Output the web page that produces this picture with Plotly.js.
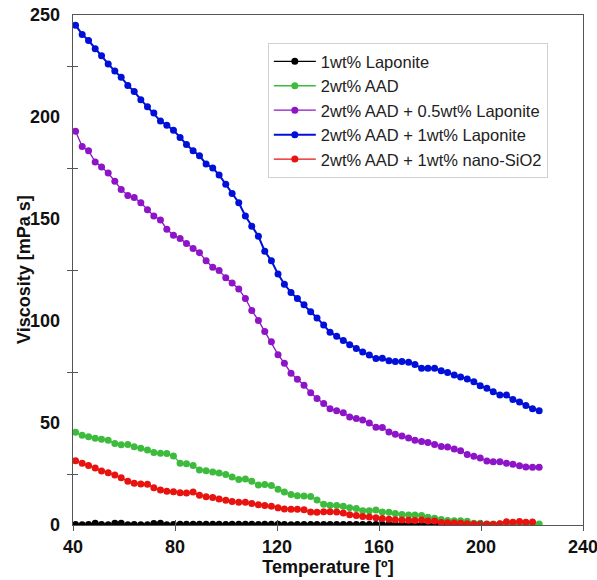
<!DOCTYPE html>
<html>
<head>
<meta charset="utf-8">
<script src="https://cdn.plot.ly/plotly-3.0.1.min.js"></script>
<style>
  html, body { margin: 0; padding: 0; background: #fff; }
  #chart { width: 597px; height: 580px; }
</style>
</head>
<body>
<div id="chart"></div>
<script>
// Measurement temperatures [°C]
var temperature = [41.0, 43.6, 46.1, 48.7, 51.2, 53.8, 56.4, 58.9, 61.5, 64.0,
  66.6, 69.2, 71.7, 74.3, 76.8, 79.4, 82.0, 84.5, 87.1, 89.6,
  92.2, 94.8, 97.3, 99.9, 102.4, 105.0, 107.6, 110.1, 112.7, 115.2,
  117.8, 120.4, 122.9, 125.5, 128.0, 130.6, 133.2, 135.7, 138.3, 140.8,
  143.4, 146.0, 148.5, 151.1, 153.6, 156.2, 158.8, 161.3, 163.9, 166.4,
  169.0, 171.6, 174.1, 176.7, 179.2, 181.8, 184.4, 186.9, 189.5, 192.0,
  194.6, 197.2, 199.7, 202.3, 204.8, 207.4, 210.0, 212.5, 215.1, 217.6,
  220.2, 222.8];

// Viscosity [mPa s] for each formulation
var laponite1 = [0.2, 0.1, 0.2, 0.8, 0.2, 0.1, 0.9, 0.8, 0.1, 0.2,
  0.1, 0.1, 0.7, 0.8, 0.1, 0.2, 0.4, 0.4, 0.4, 0.4,
  0.4, 0.4, 0.4, 0.3, 0.4, 0.4, 0.4, 0.4, 0.3, 0.4,
  0.4, 0.4, 0.3, 0.1, 0.2, 0.2, 0.2, 0.2, 0.2, 0.2,
  0.2, 0.2, 0.2, 0.2, 0.2, 0.2, 0.2, 0.2, 0.2, 0.2,
  0.2, 0.2, 0.2, 0.2, 0.2, 0.2, 0.2, 0.2, 0.2, 0.2,
  0.2, 0.2, 0.2, 0.2, 0.2, 0.4, 0.9, 0.3, 0.2, 0.2,
  0.2, null];

var aad2 = [45.5, 44.0, 43.2, 42.5, 42.0, 41.5, 40.0, 39.3, 39.5, 38.3,
  37.6, 36.8, 35.6, 35.2, 35.0, 33.8, 30.3, 30.0, 29.2, 27.0,
  26.6, 26.0, 25.5, 24.8, 23.5, 22.3, 22.6, 21.4, 19.6, 19.8,
  19.4, 17.5, 16.2, 15.0, 14.3, 14.2, 14.0, 12.2, 10.2, 9.7,
  9.6, 9.2, 8.5, 8.1, 7.0, 7.0, 7.4, 6.4, 6.2, 5.6,
  5.2, 4.9, 4.9, 4.6, 3.8, 3.3, 2.7, 2.2, 2.1, 2.1,
  1.8, 0.8, 0.8, 0.5, 0.5, 0.5, 0.5, 0.5, 0.7, 0.5,
  0.5, 0.5];

var aadLap05 = [193.0, 185.5, 183.5, 178.0, 175.5, 172.5, 168.5, 164.5, 161.5, 160.5,
  158.0, 154.5, 151.5, 149.5, 145.0, 142.0, 140.5, 138.0, 135.5, 133.5,
  129.5, 126.3, 124.8, 121.2, 118.6, 115.7, 111.0, 105.2, 100.3, 94.8,
  89.8, 83.5, 79.3, 74.4, 71.4, 68.5, 64.8, 62.0, 59.6, 57.0,
  56.0, 55.0, 53.0, 52.2, 51.5, 50.0, 47.9, 47.8, 45.6, 44.5,
  43.6, 42.6, 41.6, 40.9, 40.5, 39.4, 38.5, 38.2, 37.3, 36.4,
  34.6, 33.7, 32.8, 31.4, 31.0, 31.0, 30.3, 29.8, 29.1, 28.4,
  28.3, 28.3];

var aadLap1 = [245.0, 240.5, 237.5, 233.5, 230.0, 226.0, 222.5, 219.5, 215.5, 212.5,
  208.5, 205.0, 202.0, 198.0, 196.0, 193.5, 190.0, 186.5, 183.5, 181.0,
  177.0, 175.0, 171.6, 167.0, 162.5, 158.0, 151.5, 146.5, 141.5, 134.2,
  129.5, 123.0, 118.0, 114.0, 111.0, 108.0, 104.5, 101.5, 98.0, 94.5,
  92.5, 90.5, 88.3, 86.5, 84.8, 83.3, 81.6, 81.7, 80.5, 80.2,
  80.2, 79.8, 78.7, 76.8, 76.8, 76.8, 75.6, 74.8, 73.5, 72.6,
  71.6, 70.2, 68.3, 67.0, 65.3, 63.7, 63.7, 61.5, 60.3, 58.6,
  57.0, 56.0];

var aadSiO2 = [31.5, 30.3, 29.2, 27.9, 26.5, 25.6, 24.5, 23.2, 21.4, 20.5,
  20.1, 20.0, 18.3, 17.2, 16.6, 16.3, 15.8, 15.7, 16.2, 14.6,
  13.9, 13.5, 12.7, 12.1, 11.5, 11.1, 11.1, 10.6, 9.9, 9.5,
  9.2, 8.4, 7.9, 7.7, 7.7, 7.5, 6.4, 6.3, 6.5, 6.5,
  6.4, 5.9, 5.0, 4.7, 4.2, 3.9, 3.6, 3.2, 2.8, 2.6,
  2.5, 2.3, 2.2, 2.4, 2.0, 1.9, 1.2, 1.1, 1.0, 0.9,
  0.6, 0.5, 0.4, 0.4, 0.3, 0.6, 1.6, 1.4, 1.7, 1.3,
  1.5, null];

var seriesNames = ['1wt% Laponite', '2wt% AAD', '2wt% AAD + 0.5wt% Laponite',
  '2wt% AAD + 1wt% Laponite', '2wt% AAD + 1wt% nano-SiO2'];
var seriesColors = ['#000000', '#3dbb3d', '#8e14c8', '#0010d8', '#e8120f'];
var seriesValues = [laponite1, aad2, aadLap05, aadLap1, aadSiO2];

var xTicks = [40, 80, 120, 160, 200, 240];
var yLabels = [0, 50, 100, 150, 200, 250];
var yMarks = [25, 75, 125, 175, 225];

var traces = seriesValues.map(function (vals, i) {
  return {
    x: temperature,
    y: vals,
    name: seriesNames[i],
    type: 'scatter',
    mode: 'lines+markers',
    line: { color: seriesColors[i], width: i === 3 ? 2 : 1.3 },
    marker: { color: seriesColors[i], size: 7 },
    connectgaps: false
  };
});

var fontFamily = 'Liberation Sans, Arial, sans-serif';
var axisLine = '#555';

var layout = {
  width: 597,
  height: 580,
  margin: { l: 73, r: 14, t: 15, b: 55 },
  paper_bgcolor: '#fff',
  plot_bgcolor: '#fff',
  showlegend: true,
  legend: {
    x: 0.382, y: 0.945, xanchor: 'left', yanchor: 'top',
    bgcolor: '#fff', bordercolor: '#d0d0d0', borderwidth: 1,
    font: { family: fontFamily, size: 16.5, color: '#222' },
    itemwidth: 42,
    tracegroupgap: 0
  },
  xaxis: {
    range: [40, 240],
    tickvals: xTicks,
    ticktext: xTicks.map(String),
    ticklabeloverflow: 'allow',
    ticks: 'outside', ticklen: 5, tickcolor: axisLine, tickwidth: 1,
    tickfont: { family: fontFamily, size: 18, color: '#111', weight: 'bold' },
    showgrid: false, zeroline: false,
    showline: true, linecolor: axisLine, linewidth: 1.3, mirror: true,
    title: { text: '<b>Temperature [º]</b>', font: { family: fontFamily, size: 18, color: '#111' }, standoff: 2 },
    fixedrange: true
  },
  xaxis2: {
    range: [40, 240], overlaying: 'x', anchor: 'y', side: 'bottom',
    tickvals: xTicks, ticks: 'inside', ticklen: 5, tickcolor: axisLine, tickwidth: 1,
    showticklabels: false, showgrid: false, zeroline: false, showline: false,
    fixedrange: true
  },
  yaxis: {
    range: [0, 250],
    tickvals: yLabels,
    ticktext: yLabels.map(String),
    ticks: '',
    tickfont: { family: fontFamily, size: 18, color: '#111', weight: 'bold' },
    ticklabelstandoff: 8,
    showgrid: false, zeroline: false,
    showline: true, linecolor: axisLine, linewidth: 1.3, mirror: true,
    fixedrange: true
  },
  yaxis2: {
    range: [0, 250], overlaying: 'y', anchor: 'x', side: 'left',
    tickvals: yMarks, ticks: 'outside', ticklen: 5, tickcolor: axisLine, tickwidth: 1,
    showticklabels: false, showgrid: false, zeroline: false, showline: false,
    fixedrange: true
  },
  yaxis3: {
    range: [0, 250], overlaying: 'y', anchor: 'x', side: 'left',
    tickvals: yMarks, ticks: 'inside', ticklen: 5, tickcolor: axisLine, tickwidth: 1,
    showticklabels: false, showgrid: false, zeroline: false, showline: false,
    fixedrange: true
  },
  // Y-axis title placed just left of the tick labels
  annotations: [{
    text: '<b>Viscosity [mPa s]</b>',
    xref: 'paper', yref: 'paper', x: 0, y: 0.5,
    xanchor: 'center', yanchor: 'middle', xshift: -49,
    textangle: -90, showarrow: false,
    font: { family: fontFamily, size: 18, color: '#111' }
  }]
};

// Invisible carrier traces keep the overlay tick axes on the page
traces.push({ x: [40], y: [0], xaxis: 'x2', yaxis: 'y2', mode: 'markers', marker: { opacity: 0 }, showlegend: false, hoverinfo: 'skip' });
traces.push({ x: [40], y: [0], xaxis: 'x', yaxis: 'y3', mode: 'markers', marker: { opacity: 0 }, showlegend: false, hoverinfo: 'skip' });

Plotly.newPlot('chart', traces, layout, { displayModeBar: false, staticPlot: true });
</script>
</body>
</html>
